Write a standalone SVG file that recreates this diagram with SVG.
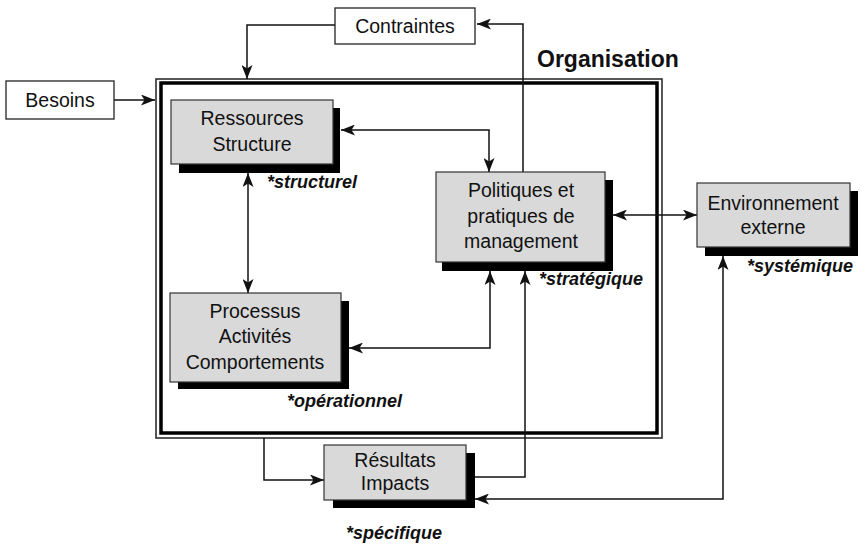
<svg xmlns="http://www.w3.org/2000/svg" width="867" height="546" viewBox="0 0 867 546">
<style>
text{font-family:"Liberation Sans",Arial,sans-serif;fill:#111}
.t{font-size:19.5px;text-anchor:middle}
.lab{font-size:18px;font-weight:bold;font-style:italic}
.box{fill:#d9d9d9;stroke:#333;stroke-width:1.2}
.wbox{fill:#fff;stroke:#222;stroke-width:1.3}
.sh{fill:#000}
.c{fill:none;stroke:#111;stroke-width:1.5}
</style>
<defs>
<marker id="ah" viewBox="0 0 14 11" refX="14" refY="5.5" markerWidth="14" markerHeight="11" markerUnits="userSpaceOnUse" orient="auto-start-reverse">
<path d="M0,0 L14,5.5 L0,11 L3.5,5.5 z" fill="#111"/>
</marker>
</defs>
<rect width="867" height="546" fill="#fff"/>
<g id="organisation">
<rect x="156" y="79" width="506" height="359" fill="none" stroke="#222" stroke-width="1.5"/>
<rect x="161" y="83" width="496" height="350" fill="none" stroke="#000" stroke-width="3.5"/>
<text x="537" y="67" style="font-size:23px;font-weight:bold">Organisation</text>
</g>
<g id="connectors">
<path class="c" d="M114,100 H155" marker-end="url(#ah)"/>
<path class="c" d="M335,25 H247 V79" marker-end="url(#ah)"/>
<path class="c" d="M523,172 V24 H477" marker-end="url(#ah)"/>
<path class="c" d="M341,130 H489 V172" marker-start="url(#ah)" marker-end="url(#ah)"/>
<path class="c" d="M248,173 V293" marker-start="url(#ah)" marker-end="url(#ah)"/>
<path class="c" d="M349,348 H490 V271" marker-start="url(#ah)" marker-end="url(#ah)"/>
<path class="c" d="M613,215 H697" marker-start="url(#ah)" marker-end="url(#ah)"/>
<path class="c" d="M264,438 V480 H324" marker-end="url(#ah)"/>
<path class="c" d="M475,477 H525 V271" marker-end="url(#ah)"/>
<path class="c" d="M475,499 H723 V256" marker-start="url(#ah)" marker-end="url(#ah)"/>
</g>
<g id="besoins">
<rect class="wbox" x="6" y="81" width="108" height="38"/>
<text class="t" x="60" y="107">Besoins</text>
</g>
<g id="contraintes">
<rect class="wbox" x="335" y="8" width="140" height="36"/>
<text class="t" x="405" y="33">Contraintes</text>
</g>
<g id="ressources">
<rect class="sh" x="179" y="108" width="161" height="65"/>
<rect class="box" x="171" y="100" width="162" height="64"/>
<text class="t" x="252" y="125">Ressources</text>
<text class="t" x="252" y="151">Structure</text>
<text class="lab" x="267" y="188">*structurel</text>
</g>
<g id="politiques">
<rect class="sh" x="442" y="180" width="171" height="91"/>
<rect class="box" x="436" y="172" width="169" height="90"/>
<text class="t" x="521" y="197">Politiques et</text>
<text class="t" x="521" y="223">pratiques de</text>
<text class="t" x="521" y="248">management</text>
<text class="lab" x="539" y="285">*stratégique</text>
</g>
<g id="processus">
<rect class="sh" x="178" y="301" width="171" height="88"/>
<rect class="box" x="170" y="293" width="171" height="89"/>
<text class="t" x="255" y="318">Processus</text>
<text class="t" x="255" y="343">Activités</text>
<text class="t" x="255" y="369">Comportements</text>
<text class="lab" x="287" y="407">*opérationnel</text>
</g>
<g id="environnement">
<rect class="sh" x="705" y="191" width="153" height="65"/>
<rect class="box" x="697" y="183" width="153" height="64"/>
<text class="t" x="773" y="210">Environnement</text>
<text class="t" x="773" y="234">externe</text>
<text class="lab" x="747" y="272">*systémique</text>
</g>
<g id="resultats">
<rect class="sh" x="333" y="453" width="142" height="55"/>
<rect class="box" x="324" y="445" width="142" height="55"/>
<text class="t" x="395" y="467">Résultats</text>
<text class="t" x="395" y="490">Impacts</text>
<text class="lab" x="346" y="539">*spécifique</text>
</g>
</svg>
